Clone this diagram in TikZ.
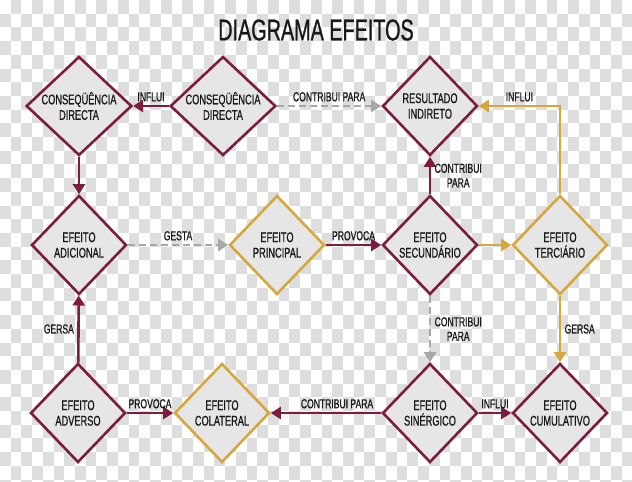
\documentclass[tikz,border=0pt]{standalone}
\usepackage{fontspec}
\setmainfont{Liberation Sans}[FakeStretch=0.66,FakeBold=0.8]
\usetikzlibrary{shapes.geometric,arrows.meta}
\definecolor{vinho}{HTML}{7B1D3B}
\definecolor{ouro}{HTML}{D6A73C}
\definecolor{cinza}{HTML}{A8A8A8}
\definecolor{fundo}{HTML}{E6E6E6}
\definecolor{xadrez}{HTML}{DEDEDE}
\tikzset{
  efeito/.style={diamond,aspect=1.1,draw=#1,line width=2.6pt,fill=fundo,
    minimum width=95pt,minimum height=99pt,inner sep=0pt,align=center,
    font=\fontsize{14}{15.5}\selectfont,text=black!90},
  efeito/.default=vinho,
  seta/.style={line width=2.6pt,draw=#1,-{Triangle[length=10pt,width=12pt]}},
  seta/.default=vinho,
  tracejada/.style={seta=cinza,dash pattern=on 7pt off 4pt},
  rotulo/.style={font=\fontsize{13}{14.5}\selectfont,align=center,text=black!90}
}
\begin{document}
\begin{tikzpicture}[x=1pt,y=-1pt]
            \useasboundingbox (0,0) rectangle (632,482);
            % fundo xadrez
            \begin{scope}
            \clip (0,0) rectangle (632,482);
            \fill[white] (0,0) rectangle (632,482);
            \foreach \i in {0,...,58}{
              \foreach \j in {0,...,35}{
                \pgfmathtruncatemacro\paridade{mod(\i+\j,2)}
                \ifnum\paridade=1 \fill[xadrez] (\i*10.72,\j*13.7) rectangle ++(10.72,13.7);\fi
              }
            }
            \end{scope}
            \node[font=\fontsize{30}{30}\selectfont,text=black!90] (titulo) at (316,30) {DIAGRAMA EFEITOS};
            % losangos
            \node[efeito] (consA) at (79,106) {CONSEQÜÊNCIA\\DIRECTA};
            \node[efeito] (consB) at (223,106) {CONSEQÜÊNCIA\\DIRECTA};
            \node[efeito] (resInd) at (430,106) {RESULTADO\\INDIRETO};
            \node[efeito] (efAdic) at (79,245) {EFEITO\\ADICIONAL};
            \node[efeito=ouro] (efPrinc) at (277,245) {EFEITO\\PRINCIPAL};
            \node[efeito] (efSec) at (430,245) {EFEITO\\SECUNDÁRIO};
            \node[efeito=ouro] (efTerc) at (560,245) {EFEITO\\TERCIÁRIO};
            \node[efeito] (efAdv) at (78,413) {EFEITO\\ADVERSO};
            \node[efeito=ouro] (efColat) at (222,413) {EFEITO\\COLATERAL};
            \node[efeito] (efSiner) at (430,413) {EFEITO\\SINÉRGICO};
            \node[efeito] (efCumul) at (560,413) {EFEITO\\CUMULATIVO};
            % ligacoes
            \draw[seta] (consB) -- node[rotulo,above] {INFLUI} (consA);
            \draw[tracejada] (consB) -- node[rotulo,above] {CONTRIBUI PARA} (resInd);
            \draw[seta] (consA) -- (efAdic);
            \draw[tracejada] (efAdic) -- node[rotulo,above] {GESTA} (efPrinc);
            \draw[seta] (efPrinc) -- node[rotulo,above] {PROVOCA} (efSec);
            \draw[seta] (efSec) -- node[rotulo,right] {CONTRIBUI\\PARA} (resInd);
            \draw[seta=ouro] (efSec) -- (efTerc);
            \draw[seta=ouro] (efTerc) |- node[rotulo,above,pos=.75] {INFLUI} (resInd);
            \draw[seta=ouro] (efTerc) -- node[rotulo,right] {GERSA} (efCumul);
            \draw[tracejada] (efSec) -- node[rotulo,right] {CONTRIBUI\\PARA} (efSiner);
            \draw[seta] (efSiner) -- node[rotulo,above,pos=.4] {CONTRIBUI PARA} (efColat);
            \draw[seta] (efSiner) -- node[rotulo,above] {INFLUI} (efCumul);
            \draw[seta] (efAdv) -- node[rotulo,above] {PROVOCA} (efColat);
            \draw[seta] (efAdv) -- node[rotulo,left] {GERSA} (efAdic);
\end{tikzpicture}
\end{document}
